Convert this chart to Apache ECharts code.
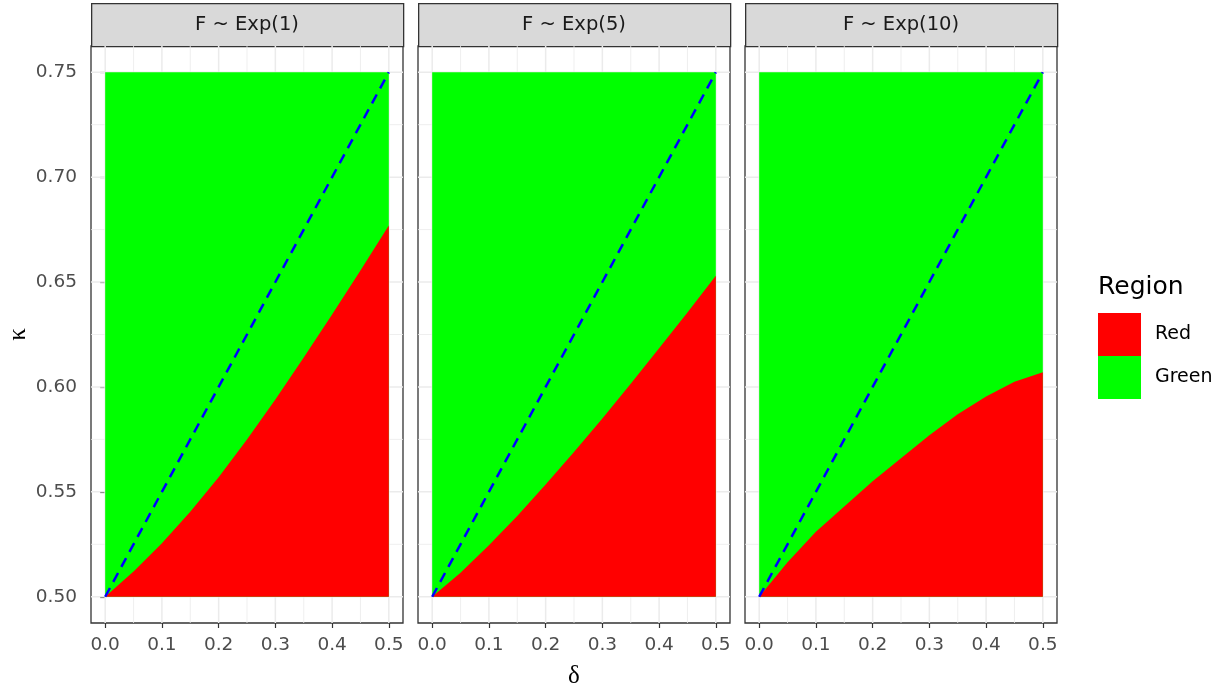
<!DOCTYPE html>
<html><head><meta charset="utf-8">
<script src="https://cdn.jsdelivr.net/npm/echarts@6/dist/echarts.min.js"></script>
<style>html,body{margin:0;padding:0;background:#fff}#c{width:1228px;height:689px}</style>
</head><body><div id="c"></div>
<script>
// ---- data ----
const panels = ['F ~ Exp(1)', 'F ~ Exp(5)', 'F ~ Exp(10)'];
const deltaGrid = [0, 0.05, 0.1, 0.15, 0.2, 0.25, 0.3, 0.35, 0.4, 0.45, 0.5];
const kappaExp1 = [0.500, 0.512, 0.5255, 0.5405, 0.557, 0.575, 0.594, 0.614, 0.6345, 0.6555, 0.677];
const kappaExp5 = [0.500, 0.5115, 0.5245, 0.5385, 0.5535, 0.569, 0.585, 0.6015, 0.6185, 0.6355, 0.653];
const kappaExp10 = [0.500, 0.5165, 0.531, 0.543, 0.555, 0.566, 0.577, 0.587, 0.5955, 0.6025, 0.607];
const boundaries = [kappaExp1, kappaExp5, kappaExp10];
const regionBox = [0, 0.5, 0.5, 0.75];   // deltaMin, deltaMax, kappaMin, kappaMax
const diagDelta = [0, 0.5];
const diagKappa = [0.5, 0.75];
const xTicks = [0, 0.1, 0.2, 0.3, 0.4, 0.5];
const xMinor = [0.05, 0.15, 0.25, 0.35, 0.45];
const yTicks = [0.5, 0.55, 0.6, 0.65, 0.7, 0.75];
const yMinor = [0.525, 0.575, 0.625, 0.675, 0.725];
const xRange = [-0.025, 0.525];
const yRange = [0.4875, 0.7625];
const legendNames = ['Red', 'Green'];
const legendColors = ['#FF0000', '#00FF00'];

// ---- layout ----
const panelLeft = [91, 418, 745];
const panelTop = 46, panelW = 312, panelH = 577;
const stripTop = 3, stripH = 43;
const SANS = '"DejaVu Sans", "Liberation Sans", Arial, sans-serif';
const SERIF = '"Liberation Serif", "DejaVu Serif", serif';

const chart = echarts.init(document.getElementById('c'), null, {renderer: 'canvas'});

const grids = [], xAxes = [], yAxes = [], series = [], graphics = [];
panels.forEach((p, i) => {
  grids.push({left: panelLeft[i], top: panelTop, width: panelW, height: panelH,
    outerBoundsMode: 'none', containLabel: false,
    show: true, borderColor: '#333333', borderWidth: 1.3, backgroundColor: '#FFFFFF'});
  xAxes.push({type: 'value', gridIndex: i, min: xRange[0], max: xRange[1],
    name: i === 1 ? 'δ' : '', nameLocation: 'middle', nameGap: 41,
    nameTextStyle: {fontFamily: SERIF, fontSize: 25, color: '#000'},
    axisLine: {show: false},
    axisTick: {show: true, customValues: xTicks, length: 5, lineStyle: {color: '#333333', width: 1.2}},
    axisLabel: {show: true, customValues: xTicks, margin: 13, color: '#4D4D4D', fontSize: 18.5, fontFamily: SANS,
      formatter: v => Number(v).toFixed(1)},
    splitLine: {show: false}, minorSplitLine: {show: false}});
  yAxes.push({type: 'value', gridIndex: i, min: yRange[0], max: yRange[1],
    name: i === 0 ? 'κ' : '', nameLocation: 'middle', nameGap: 60, nameRotate: 90,
    nameTextStyle: {fontFamily: SERIF, fontSize: 25, color: '#000'},
    axisLine: {show: false},
    axisTick: {show: i === 0, customValues: yTicks, length: 5, lineStyle: {color: '#333333', width: 1.2}},
    axisLabel: {show: i === 0, customValues: yTicks, margin: 14, color: '#4D4D4D', fontSize: 18.5, fontFamily: SANS,
      formatter: v => Number(v).toFixed(2)},
    splitLine: {show: false}});

  // background gridlines (drawn under the tiles)
  const gl = [];
  xMinor.forEach(v => gl.push(['x', v, 0.8]));
  yMinor.forEach(v => gl.push(['y', v, 0.8]));
  xTicks.forEach(v => gl.push(['x', v, 1.5]));
  yTicks.forEach(v => gl.push(['y', v, 1.5]));
  series.push({type: 'custom', name: 'gridlines' + i, xAxisIndex: i, yAxisIndex: i, z: 1, silent: true,
    data: gl.map((g, k) => [k]),
    renderItem: (params, api) => {
      const g = gl[params.dataIndex];
      const cs = params.coordSys;
      let shape;
      if (g[0] === 'x') {
        const px = api.coord([g[1], yRange[0]])[0];
        shape = {x1: px, y1: cs.y, x2: px, y2: cs.y + cs.height};
      } else {
        const py = api.coord([xRange[0], g[1]])[1];
        shape = {x1: cs.x, y1: py, x2: cs.x + cs.width, y2: py};
      }
      return {type: 'line', shape: shape, style: {stroke: '#EBEBEB', lineWidth: g[2]}};
    }});

  // green region box
  series.push({type: 'custom', name: 'Green', xAxisIndex: i, yAxisIndex: i, z: 2,
    itemStyle: {color: legendColors[1]},
    data: [regionBox],
    renderItem: (params, api) => {
      const a = api.coord([api.value(0), api.value(3)]);
      const b = api.coord([api.value(1), api.value(2)]);
      return {type: 'rect', shape: {x: a[0], y: a[1], width: b[0] - a[0], height: b[1] - a[1]},
        style: {fill: legendColors[1]}};
    }});
  // red region under boundary
  const pts = deltaGrid.map((d, j) => [d, boundaries[i][j]]);
  series.push({type: 'custom', name: 'Red', xAxisIndex: i, yAxisIndex: i, z: 3,
    itemStyle: {color: legendColors[0]},
    data: pts,
    renderItem: (params, api) => {
      if (params.dataIndex !== 0) return {type: 'group', children: []};
      const poly = pts.map(q => api.coord(q));
      poly.push(api.coord([deltaGrid[deltaGrid.length - 1], regionBox[2]]));
      poly.push(api.coord([deltaGrid[0], regionBox[2]]));
      return {type: 'polygon', shape: {points: poly}, style: {fill: legendColors[0]}};
    }});
  // dashed diagonal
  series.push({type: 'line', name: 'diag' + i, xAxisIndex: i, yAxisIndex: i, z: 5,
    data: diagDelta.map((d, j) => [d, diagKappa[j]]),
    symbol: 'none', lineStyle: {color: '#0000FF', width: 2.5, type: [10, 7]}});

  // strip
  graphics.push({type: 'rect', left: panelLeft[i], top: stripTop,
    shape: {width: panelW, height: stripH},
    style: {fill: '#D9D9D9', stroke: '#333333', lineWidth: 1.3}});
  graphics.push({type: 'text', x: panelLeft[i] + panelW / 2, y: stripTop + stripH / 2,
    style: {text: p, fill: '#1A1A1A', font: '19.5px ' + SANS, align: 'center', verticalAlign: 'middle'}});
});

graphics.push({type: 'text', x: 1098, y: 287,
  style: {text: 'Region', fill: '#000', font: '25px ' + SANS, align: 'left', verticalAlign: 'middle'}});

chart.setOption({
  animation: false,
  grid: grids, xAxis: xAxes, yAxis: yAxes, series: series,
  legend: {orient: 'vertical', left: 1098, top: 313, padding: 0, itemGap: 0,
    itemWidth: 43, itemHeight: 43, icon: 'rect', selectedMode: false,
    data: legendNames.map((n, k) => ({name: n, itemStyle: {color: legendColors[k]}})),
    textStyle: {fontSize: 19, color: '#000', fontFamily: SANS, padding: [0, 0, 0, 9]}},
  graphic: graphics
});
</script></body></html>
